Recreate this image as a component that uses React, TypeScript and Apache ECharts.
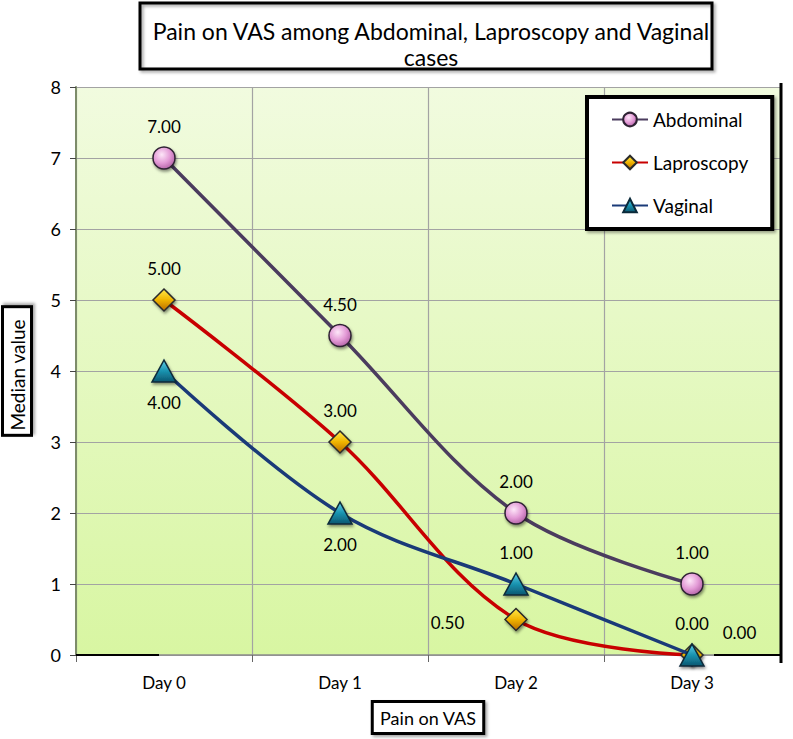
import React, { useEffect, useRef } from "react";
import * as echarts from "echarts";

const categories = ["Day 0", "Day 1", "Day 2", "Day 3"];
const abdominal = [7, 4.5, 2, 1];
const laproscopy = [5, 3, 0.5, 0];
const vaginal = [4, 2, 1, 0];
const yMin = 0;
const yMax = 8;
const yStep = 1;

const FONT = "Lato";

export default function App() {
  const ref = useRef<HTMLDivElement>(null);

  useEffect(() => {
    document.body.style.margin = "0";
    const chart = echarts.init(ref.current!, null, { renderer: "svg" });

    const fmt = (p: any) => Number(p.value).toFixed(2);
    const lbl = (position: string, extra: any = {}) => ({
      show: true,
      position,
      distance: 11,
      formatter: fmt,
      fontFamily: FONT,
      fontSize: 17,
      color: "#000",
      ...extra,
    });

    const abdPos = [lbl("top"), lbl("top"), lbl("top"), lbl("top")];
    const lapPos = [
      lbl("top"),
      lbl("top"),
      lbl("left", { distance: 40, offset: [0, 3] }),
      lbl("right", { distance: 19, offset: [0, -23] }),
    ];
    const vagPos = [lbl("bottom"), lbl("bottom"), lbl("top"), lbl("top")];

    const build = (vals: number[], labels: any[]) =>
      vals.map((v, i) => ({ value: v, label: labels[i] }));

    const symShadow = {
      shadowBlur: 3,
      shadowColor: "rgba(0,0,0,0.45)",
      shadowOffsetX: 1,
      shadowOffsetY: 2,
    };

    const boxStyle = {
      borderColor: "#000",
      borderWidth: 3,
      backgroundColor: "#fff",
      shadowBlur: 3,
      shadowColor: "rgba(0,0,0,0.35)",
      shadowOffsetX: 2,
      shadowOffsetY: 2,
    };

    const option: any = {
      animation: false,
      title: {
        text: "Pain on VAS among Abdominal, Laproscopy and Vaginal\ncases",
        left: 426,
        top: 13,
        textAlign: "center",
        textStyle: {
          fontFamily: FONT,
          fontSize: 23,
          fontWeight: "normal",
          color: "#000",
          lineHeight: 26,
        },
      },
      graphic: [
        {
          type: "rect",
          shape: { x: 140, y: 3, width: 572, height: 66 },
          style: {
            fill: "transparent",
            stroke: "#000",
            lineWidth: 3,
            shadowBlur: 3,
            shadowColor: "rgba(0,0,0,0.35)",
            shadowOffsetX: 2,
            shadowOffsetY: 2,
          },
          z: 10,
        },
        {
          type: "line",
          shape: { x1: 781, y1: 83, x2: 781, y2: 663 },
          style: { stroke: "#000", lineWidth: 3 },
          z: 10,
        },
        {
          type: "line",
          shape: { x1: 76, y1: 655, x2: 159, y2: 655 },
          style: { stroke: "#000", lineWidth: 2 },
          z: 10,
        },
        {
          type: "line",
          shape: { x1: 714, y1: 655, x2: 781, y2: 655 },
          style: { stroke: "#000", lineWidth: 2 },
          z: 10,
        },
      ],
      legend: {
        orient: "vertical",
        left: 587,
        top: 97,
        padding: [13, 24, 14, 24],
        itemGap: 24,
        itemWidth: 36,
        itemHeight: 17,
        backgroundColor: "#fff",
        borderColor: "#000",
        borderWidth: 4,
        shadowBlur: 3,
        shadowColor: "rgba(0,0,0,0.35)",
        shadowOffsetX: 2,
        shadowOffsetY: 2,
        textStyle: { fontFamily: FONT, fontSize: 19, color: "#000" },
        data: ["Abdominal", "Laproscopy", "Vaginal"],
      },
      grid: {
        left: 76,
        right: 13,
        top: 87,
        bottom: 84,
        outerBoundsMode: "none",
        containLabel: false,
        show: true,
        borderWidth: 0,
        backgroundColor: new echarts.graphic.LinearGradient(0, 0, 0, 1, [
          { offset: 0, color: "#f1fbdf" },
          { offset: 1, color: "#d8f6a2" },
        ]),
      },
      xAxis: {
        type: "category",
        data: categories,
        boundaryGap: true,
        name: "Pain on VAS",
        nameLocation: "middle",
        nameGap: 48,
        nameTextStyle: {
          fontFamily: FONT,
          fontSize: 18,
          color: "#000",
          padding: [6, 6, 5, 6],
          ...boxStyle,
        },
        axisLine: { lineStyle: { color: "#8c8c8c", width: 1.5 } },
        axisTick: { show: true, length: 7, lineStyle: { color: "#666" } },
        axisLabel: { fontFamily: FONT, fontSize: 17, color: "#000", margin: 19 },
        splitLine: { show: true, lineStyle: { color: "#a3a3a3", width: 1.2 } },
      },
      yAxis: {
        type: "value",
        min: yMin,
        max: yMax,
        interval: yStep,
        name: "Median value",
        nameLocation: "middle",
        nameGap: 46,
        nameRotate: 90,
        nameTextStyle: {
          fontFamily: FONT,
          fontSize: 19,
          color: "#000",
          padding: [4, 11, 3, 3],
          ...boxStyle,
        },
        axisLine: { show: true, lineStyle: { color: "#7d8c6a", width: 2 } },
        axisTick: { show: true, length: 6, lineStyle: { color: "#444" } },
        axisLabel: { fontFamily: FONT, fontSize: 18, color: "#000", margin: 15 },
        splitLine: { show: true, lineStyle: { color: "#a3a3a3", width: 1.2 } },
      },
      series: [
        {
          name: "Abdominal",
          type: "line",
          smooth: 0.35,
          data: build(abdominal, abdPos),
          symbol: "circle",
          symbolSize: 22,
          lineStyle: { color: "#4b3c5e", width: 3.5 },
          itemStyle: {
            color: new echarts.graphic.RadialGradient(0.4, 0.35, 0.7, [
              { offset: 0, color: "#fde6f8" },
              { offset: 0.55, color: "#e39ad6" },
              { offset: 1, color: "#b060a4" },
            ]),
            borderColor: "#2e2233",
            borderWidth: 1.5,
            ...symShadow,
          },
          z: 3,
        },
        {
          name: "Laproscopy",
          type: "line",
          smooth: 0.35,
          data: build(laproscopy, lapPos),
          symbol: "diamond",
          symbolSize: 22,
          lineStyle: { color: "#c80000", width: 3.5 },
          itemStyle: {
            color: new echarts.graphic.LinearGradient(0, 0, 0, 1, [
              { offset: 0, color: "#ffe94a" },
              { offset: 0.5, color: "#f0b400" },
              { offset: 1, color: "#b86a00" },
            ]),
            borderColor: "#2a2a2a",
            borderWidth: 1.5,
            ...symShadow,
          },
          z: 4,
        },
        {
          name: "Vaginal",
          type: "line",
          smooth: 0.35,
          data: build(vaginal, vagPos),
          symbol: "triangle",
          symbolSize: [24, 22],
          lineStyle: { color: "#1a3a78", width: 3.5 },
          itemStyle: {
            color: new echarts.graphic.LinearGradient(0, 0, 0, 1, [
              { offset: 0, color: "#5fd0e8" },
              { offset: 0.5, color: "#1a93b0" },
              { offset: 1, color: "#0c5670" },
            ]),
            borderColor: "#0b2a3a",
            borderWidth: 1.5,
            ...symShadow,
          },
          z: 5,
        },
      ],
    };

    chart.setOption(option);
    return () => chart.dispose();
  }, []);

  return <div ref={ref} style={{ width: 793, height: 739 }} />;
}
